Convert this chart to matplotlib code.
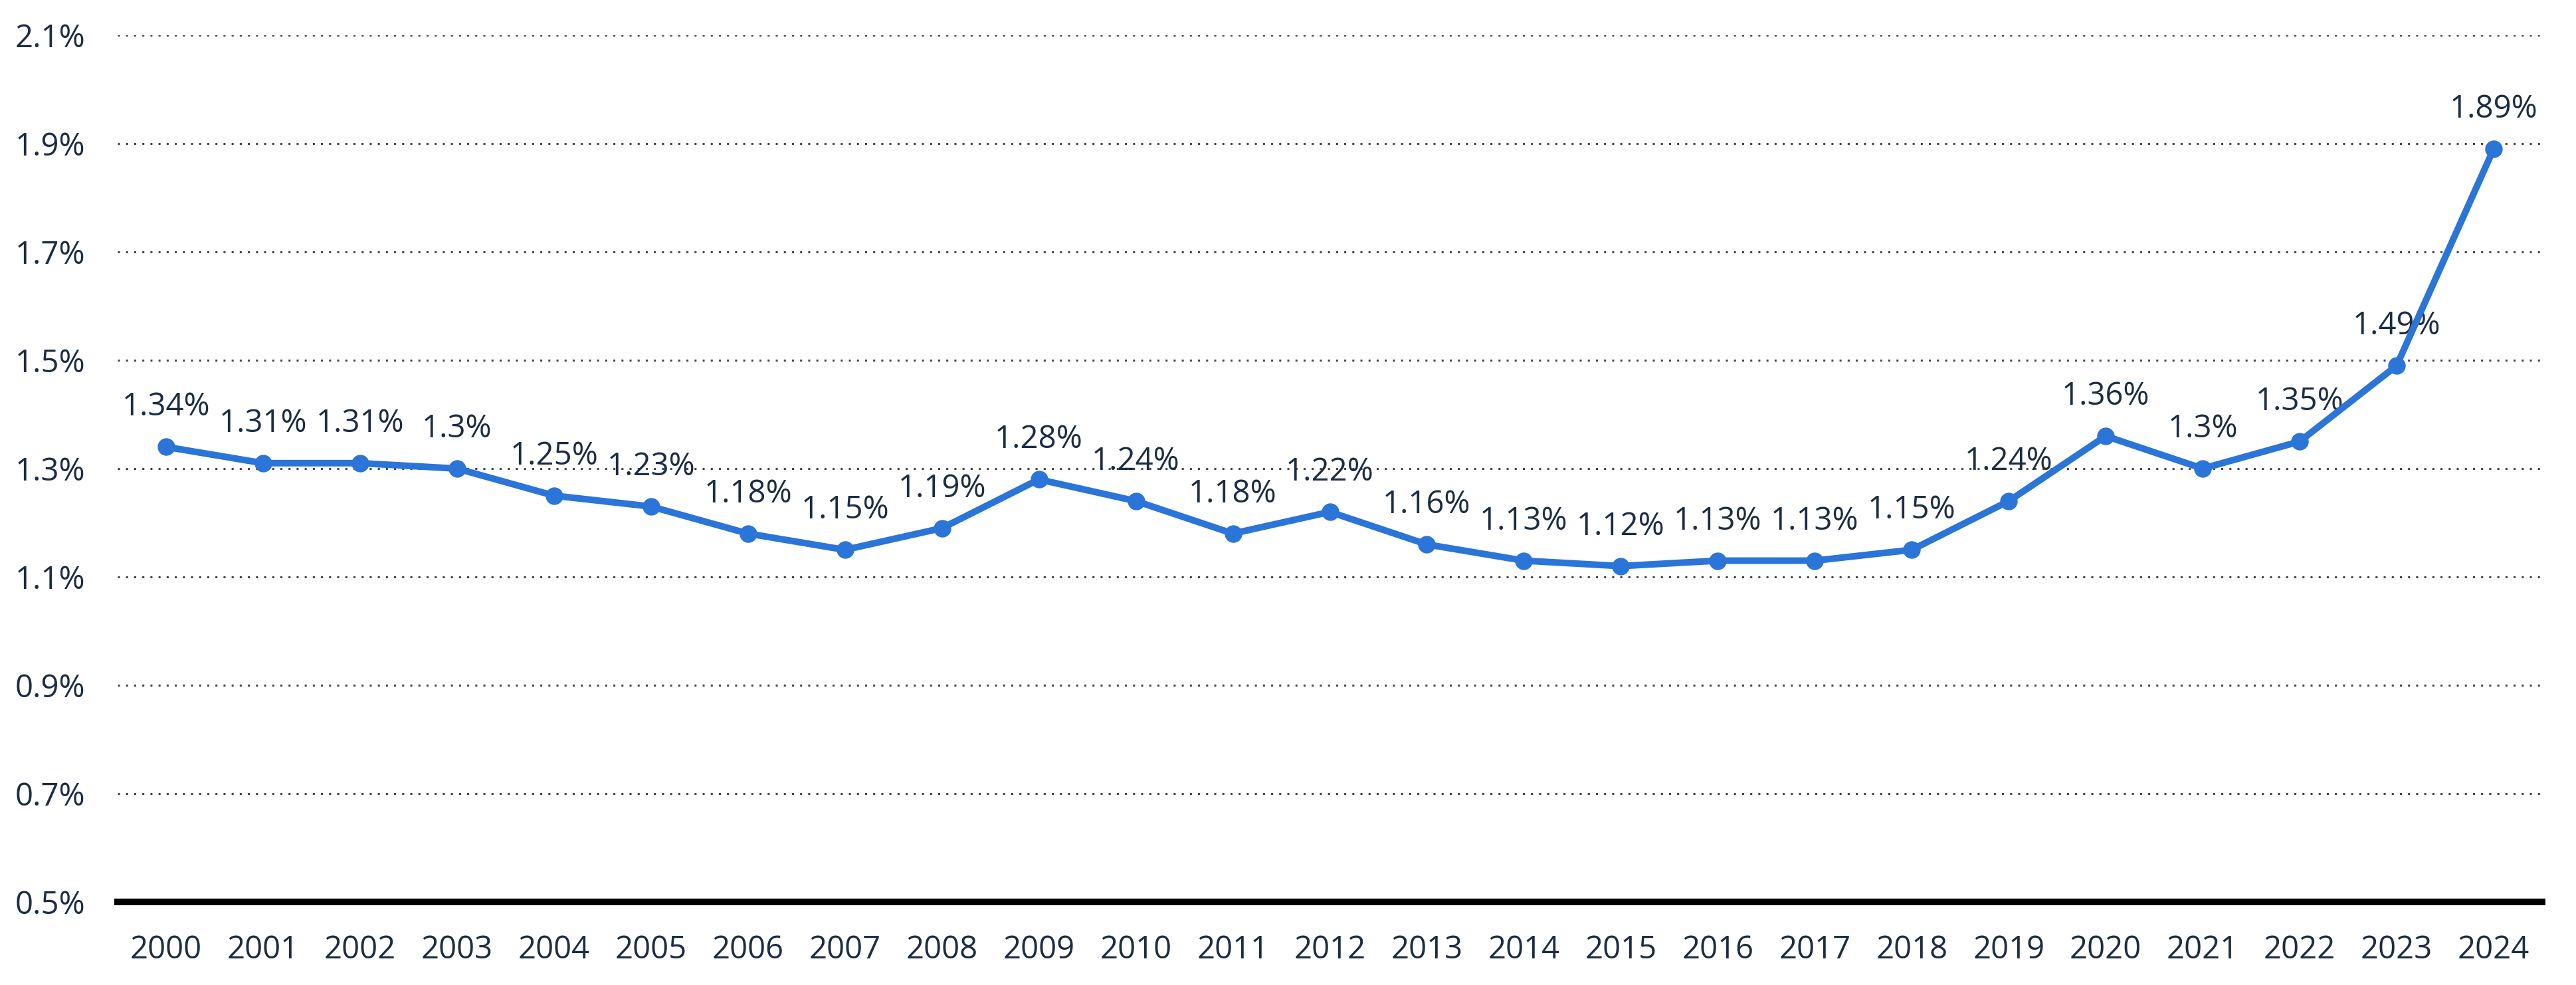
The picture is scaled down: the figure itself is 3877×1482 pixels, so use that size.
import matplotlib
matplotlib.use("Agg")
import matplotlib.pyplot as plt
from matplotlib.ticker import FixedLocator

years = [str(y) for y in range(2000, 2025)]
values = [1.34, 1.31, 1.31, 1.3, 1.25, 1.23, 1.18, 1.15, 1.19, 1.28, 1.24, 1.18,
          1.22, 1.16, 1.13, 1.12, 1.13, 1.13, 1.15, 1.24, 1.36, 1.3, 1.35, 1.49, 1.89]
y_ticks = [0.5, 0.7, 0.9, 1.1, 1.3, 1.5, 1.7, 1.9, 2.1]
y_tick_labels = ["0.5%", "0.7%", "0.9%", "1.1%", "1.3%", "1.5%", "1.7%", "1.9%", "2.1%"]

plt.rcParams['font.family'] = ['Open Sans', 'DejaVu Sans']
text_color = "#1c2c42"
line_color = "#2b74d8"

W, H = 3877, 1482
fig = plt.figure(figsize=(W / 100, H / 100), dpi=100)
ax = fig.add_axes([177 / W, 1 - 1357 / H, (3826 - 177) / W, (1357 - 53) / H])

x = list(range(len(years)))
ax.plot(x, values, color=line_color, linewidth=7.2, marker='o', markersize=18,
        zorder=4, solid_joinstyle='round', clip_on=False)

for xi, v in zip(x, values):
    ax.annotate(f"{v:g}%", (xi, v), xytext=(0, 43), textcoords='offset points',
                ha='center', va='center', fontsize=34, color=text_color, zorder=3)

ax.set_xlim(-0.5, len(years) - 0.5)
ax.set_ylim(0.5, 2.1)
ax.set_xticks(x)
ax.set_xticklabels(years)
ax.set_yticks(y_ticks)
ax.set_yticklabels(y_tick_labels)
ax.tick_params(axis='both', length=0, labelsize=34, colors=text_color, pad=35)

for yv in y_ticks[1:]:
    ax.axhline(yv, color="#444444", linewidth=2.2, linestyle=(0, (1, 3)), zorder=1)

for s in ['top', 'right', 'left']:
    ax.spines[s].set_visible(False)
ax.spines['bottom'].set_linewidth(7.2)
ax.spines['bottom'].set_color('black')
ax.spines['bottom'].set_zorder(5)

fig.savefig("out.png", dpi=100, facecolor='white')
